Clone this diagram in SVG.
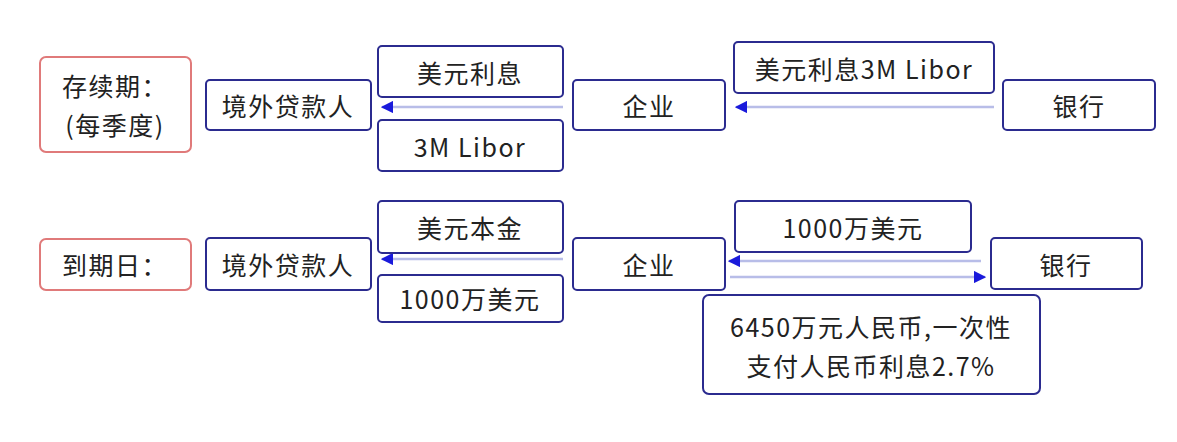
<svg xmlns="http://www.w3.org/2000/svg" width="1177" height="442" viewBox="0 0 1177 442">
<style>
.b{fill:#fff;stroke:#2b2b8f;stroke-width:2}
.r{fill:#fff;stroke:#e07a7a;stroke-width:2}
text{font-family:"Noto Sans CJK SC","Noto Sans",sans-serif;font-size:25px;letter-spacing:1.5px;fill:#222;text-anchor:middle;dominant-baseline:central}
.l{stroke:#b8bde8;stroke-width:2.5;fill:none}
</style>
<defs>
<marker id="a" viewBox="0 0 10 10" refX="9" refY="5" markerWidth="5" markerHeight="5" orient="auto"><path d="M0,0L10,5L0,10z" fill="#1a1adb"/></marker>
</defs>
<rect width="1177" height="442" fill="#fff"/>
<g id="connectors">
<line class="l" x1="563" y1="107" x2="382" y2="107" marker-end="url(#a)"/>
<line class="l" x1="994" y1="107" x2="736" y2="107" marker-end="url(#a)"/>
<line class="l" x1="563" y1="259" x2="382" y2="259" marker-end="url(#a)"/>
<line class="l" x1="981" y1="261" x2="729" y2="261" marker-end="url(#a)"/>
<line class="l" x1="730" y1="277" x2="985" y2="277" marker-end="url(#a)"/>
</g>
<g id="lbl1"><rect class="r" x="40" y="57" width="151" height="95" rx="6"/><text x="115" y="85">存续期：</text><text x="115" y="124">(每季度)</text></g>
<g id="lender1"><rect class="b" x="206" y="80" width="165" height="50" rx="4"/><text x="288" y="105">境外贷款人</text></g>
<g id="usdint"><rect class="b" x="378" y="46" width="185" height="51" rx="4"/><text x="470" y="72">美元利息</text></g>
<g id="libor"><rect class="b" x="378" y="120" width="185" height="51" rx="4"/><text x="470" y="146">3M Libor</text></g>
<g id="corp1"><rect class="b" x="573" y="80" width="152" height="50" rx="4"/><text x="649" y="105">企业</text></g>
<g id="usdlibor"><rect class="b" x="734" y="42" width="260" height="51" rx="4"/><text x="864" y="68">美元利息3M Libor</text></g>
<g id="bank1"><rect class="b" x="1003" y="80" width="152" height="50" rx="4"/><text x="1079" y="105">银行</text></g>
<g id="lbl2"><rect class="r" x="40" y="239" width="151" height="51" rx="6"/><text x="115" y="264">到期日：</text></g>
<g id="lender2"><rect class="b" x="206" y="238" width="165" height="52" rx="4"/><text x="288" y="264">境外贷款人</text></g>
<g id="principal"><rect class="b" x="378" y="201" width="185" height="52" rx="4"/><text x="470" y="227">美元本金</text></g>
<g id="usd1000a"><rect class="b" x="378" y="275" width="185" height="47" rx="4"/><text x="470" y="298">1000万美元</text></g>
<g id="corp2"><rect class="b" x="573" y="238" width="152" height="52" rx="4"/><text x="649" y="264">企业</text></g>
<g id="usd1000b"><rect class="b" x="735" y="201" width="236" height="51" rx="4"/><text x="853" y="227">1000万美元</text></g>
<g id="bank2"><rect class="b" x="991" y="238" width="151" height="51" rx="4"/><text x="1066" y="264">银行</text></g>
<g id="rmb"><rect class="b" x="703" y="295" width="337" height="99" rx="6"/><text x="871" y="326">6450万元人民币,一次性</text><text x="871" y="365">支付人民币利息2.7%</text></g>
</svg>
